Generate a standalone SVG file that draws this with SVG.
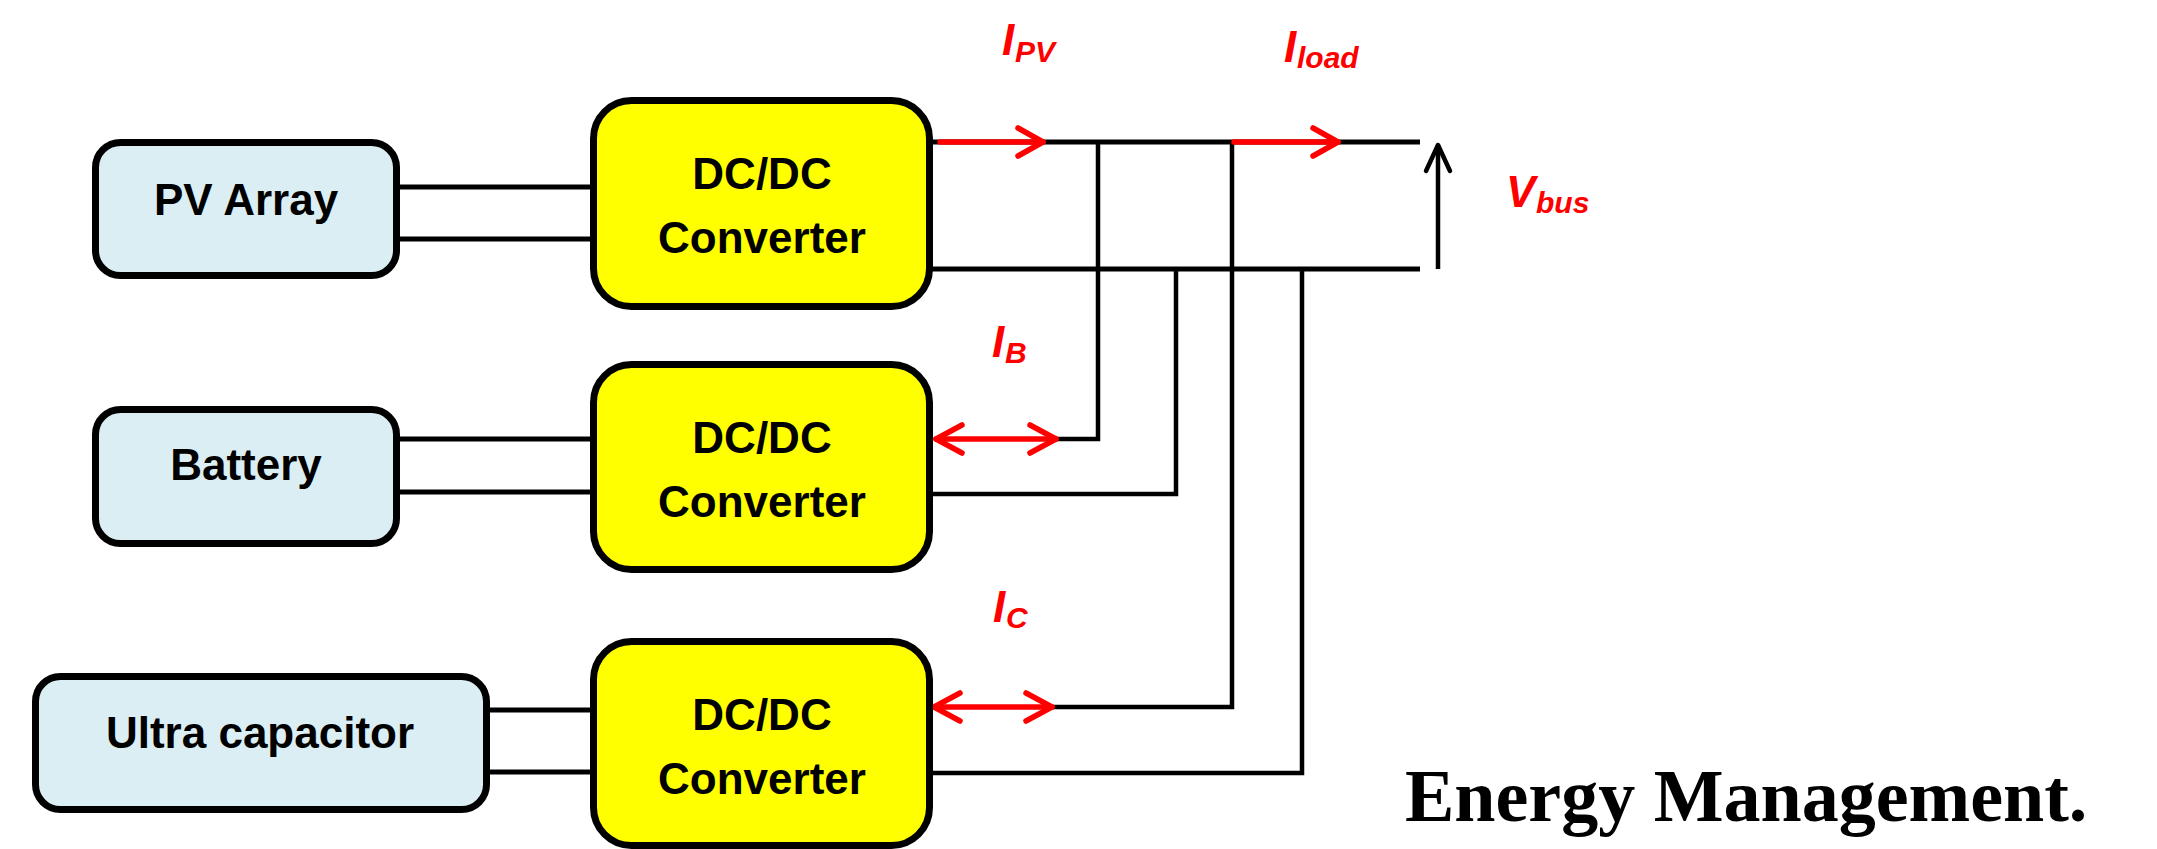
<svg xmlns="http://www.w3.org/2000/svg" width="2157" height="849" viewBox="0 0 2157 849">
<style>
.src{fill:#DAEEF3;stroke:#000;stroke-width:7}
.conv{fill:#FFFF00;stroke:#000;stroke-width:7}
.nt{font-family:"Liberation Sans",Arial,sans-serif;font-weight:bold;font-size:44px;fill:#000;text-anchor:middle}
.w{fill:none;stroke:#000;stroke-width:5}
.wt{fill:none;stroke:#000;stroke-width:4.5}
.r{fill:none;stroke:#FF0000;stroke-width:5.5;stroke-linecap:round;stroke-linejoin:round}
.lbl{font-family:"Liberation Sans",Arial,sans-serif;font-weight:bold;font-style:italic;fill:#FF0000}
.big{font-size:44px}
.sub{font-size:30px}
.title{font-family:"Liberation Serif","Times New Roman",serif;font-weight:bold;font-size:74px;fill:#000}
</style>
<rect width="2157" height="849" fill="#fff"/>
<g id="connectors">
  <!-- input pairs -->
  <line class="w" x1="400" y1="187" x2="592" y2="187"/>
  <line class="w" x1="400" y1="239" x2="592" y2="239"/>
  <line class="w" x1="400" y1="439" x2="592" y2="439"/>
  <line class="w" x1="400" y1="492" x2="592" y2="492"/>
  <line class="w" x1="488" y1="710" x2="592" y2="710"/>
  <line class="w" x1="488" y1="772" x2="592" y2="772"/>
  <!-- buses -->
  <line class="w" x1="932" y1="142" x2="1420" y2="142"/>
  <line class="w" x1="932" y1="269" x2="1420" y2="269"/>
  <!-- battery links -->
  <polyline class="wt" points="1055,439 1098,439 1098,140"/>
  <polyline class="wt" points="932,494 1176,494 1176,267"/>
  <!-- ultracap links -->
  <polyline class="wt" points="1050,707 1232,707 1232,140"/>
  <polyline class="wt" points="932,773 1302,773 1302,267"/>
  <!-- Vbus arrow -->
  <line class="wt" x1="1438" y1="269" x2="1438" y2="145"/>
  <polyline class="wt" points="1426,171 1438,145 1450,171" stroke-linecap="round" stroke-linejoin="round"/>
  <!-- red current arrows -->
  <line class="r" x1="940" y1="142" x2="1043" y2="142"/>
  <polyline class="r" points="1018,128 1043,142 1018,156"/>
  <line class="r" x1="1234" y1="142" x2="1338" y2="142"/>
  <polyline class="r" points="1313,128 1338,142 1313,156"/>
  <line class="r" x1="936" y1="439" x2="1056" y2="439"/>
  <polyline class="r" points="962,425 936,439 962,453"/>
  <polyline class="r" points="1030,425 1056,439 1030,453"/>
  <line class="r" x1="934" y1="707" x2="1052" y2="707"/>
  <polyline class="r" points="960,693 934,707 960,721"/>
  <polyline class="r" points="1026,693 1052,707 1026,721"/>
</g>
<g id="pv-array">
  <rect class="src" x="95.5" y="142.5" width="301" height="133" rx="25"/>
  <text class="nt" x="246" y="215">PV Array</text>
</g>
<g id="battery">
  <rect class="src" x="95.5" y="409.5" width="301" height="134" rx="25"/>
  <text class="nt" x="246" y="480">Battery</text>
</g>
<g id="ultra-capacitor">
  <rect class="src" x="35.5" y="676.5" width="451" height="133" rx="25"/>
  <text class="nt" x="260" y="748">Ultra capacitor</text>
</g>
<g id="converter-pv">
  <rect class="conv" x="593.5" y="100.5" width="336" height="206" rx="38"/>
  <text class="nt" x="762" y="189">DC/DC</text>
  <text class="nt" x="762" y="253">Converter</text>
</g>
<g id="converter-battery">
  <rect class="conv" x="593.5" y="364.5" width="336" height="205" rx="38"/>
  <text class="nt" x="762" y="453">DC/DC</text>
  <text class="nt" x="762" y="517">Converter</text>
</g>
<g id="converter-ultracap">
  <rect class="conv" x="593.5" y="641.5" width="336" height="204" rx="38"/>
  <text class="nt" x="762" y="730">DC/DC</text>
  <text class="nt" x="762" y="794">Converter</text>
</g>
<g id="labels">
  <text class="lbl"><tspan class="big" x="1002" y="55">I</tspan><tspan class="sub" x="1015" y="62">PV</tspan></text>
  <text class="lbl"><tspan class="big" x="1284" y="62">I</tspan><tspan class="sub" x="1297" y="68">load</tspan></text>
  <text class="lbl"><tspan class="big" x="1506" y="207">V</tspan><tspan class="sub" x="1536" y="213">bus</tspan></text>
  <text class="lbl"><tspan class="big" x="992" y="357">I</tspan><tspan class="sub" x="1005" y="363">B</tspan></text>
  <text class="lbl"><tspan class="big" x="993" y="622">I</tspan><tspan class="sub" x="1006" y="628">C</tspan></text>
</g>
<text class="title" x="1405" y="821">Energy Management.</text>
</svg>
